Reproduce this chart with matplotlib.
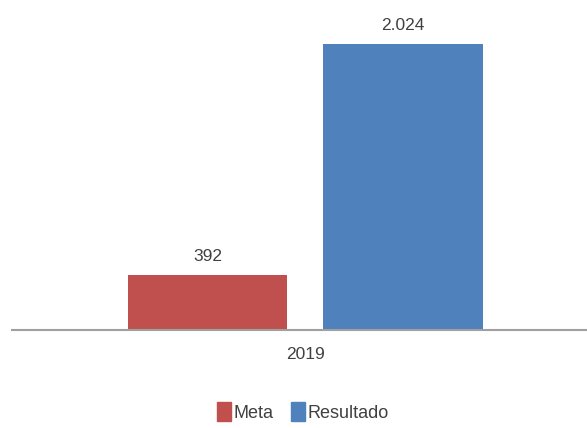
import matplotlib.pyplot as plt
from matplotlib.patches import Patch

# data
categories = ["2019"]
series_names = ["Meta", "Resultado"]
meta_values = [392]
resultado_values = [2024]
value_labels = ["392", "2.024"]
colors = ["#C0504D", "#4F81BD"]

plt.rcParams['font.family'] = ['Liberation Sans Narrow', 'Liberation Sans', 'DejaVu Sans']

fig = plt.figure(figsize=(5.87, 4.28), dpi=100)
ax = fig.add_axes([12 / 587, 1 - 330 / 428, 575 / 587, 311 / 428])

width = 0.4
offset = 0.245
series = [meta_values, resultado_values]
for i, vals in enumerate(series):
    x = [j + (i * 2 - 1) * offset for j in range(len(categories))]
    bars = ax.bar(x, vals, width=width, color=colors[i], zorder=2)
    for b, lab in zip(bars, [value_labels[i]]):
        ax.text(b.get_x() + b.get_width() / 2, b.get_height() + 75, lab,
                ha="center", va="bottom", fontsize=12.5, color="#404040")

ax.set_xlim(-0.735, 0.707)
ax.set_ylim(0, 2200)
ax.set_xticks(range(len(categories)))
ax.set_xticklabels(categories, fontsize=12.5, color="#404040")
ax.tick_params(axis="x", length=0, pad=12)
ax.set_yticks([])
for s in ["top", "right", "left"]:
    ax.spines[s].set_visible(False)
ax.spines["bottom"].set_color("#A0A0A0")
ax.spines["bottom"].set_linewidth(1.5)

handles = [Patch(color=c, label=n) for c, n in zip(colors, series_names)]
fig.legend(handles=handles, loc="center", bbox_to_anchor=(303 / 587, 1 - 412 / 428),
           ncol=2, frameon=False, fontsize=13, handlelength=0.75, handleheight=1.2,
           handletextpad=0.15, columnspacing=1.0, labelcolor="#404040")

fig.savefig("out.png", dpi=100)
